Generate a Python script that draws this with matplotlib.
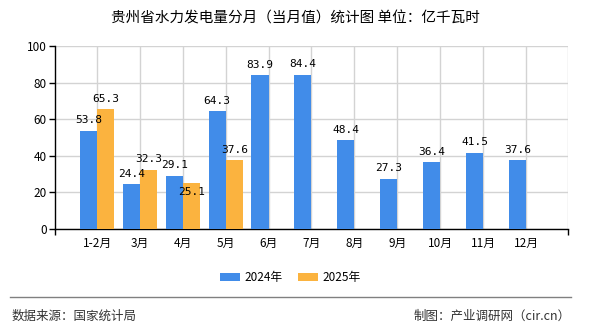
import matplotlib.pyplot as plt
import numpy as np

plt.rcParams['font.family'] = ['Noto Sans CJK SC', 'DejaVu Sans']

months = ['1-2月', '3月', '4月', '5月', '6月', '7月', '8月', '9月', '10月', '11月', '12月']
v2024 = [53.8, 24.4, 29.1, 64.3, 83.9, 84.4, 48.4, 27.3, 36.4, 41.5, 37.6]
v2025 = [65.3, 32.3, 25.1, 37.6]
yticks = [0, 20, 40, 60, 80, 100]

blue = '#418CE9'
orange = '#FBB33F'

fig = plt.figure(figsize=(5.9, 3.3), dpi=100)
ax = fig.add_axes([0.0932, 0.3061, 0.8695, 0.5545])

x = np.arange(len(months))
w = 0.4
b1 = ax.bar(x - w / 2, v2024, w, color=blue, label='2024年', zorder=3)
x2 = x[:len(v2025)]
b2 = ax.bar(x2 + w / 2, v2025, w, color=orange, label='2025年', zorder=3)

lab = dict(fontsize=8, family='DejaVu Sans Mono', ha='center', zorder=4)
for xi, v in zip(x, v2024):
    ax.annotate(f'{v}', (xi - w / 2, v), xytext=(0, 4), textcoords='offset points',
                va='bottom', **lab)
for xi, v, old in zip(x2, v2025, v2024):
    # label collides with the neighbouring 2024 label: put it under the bar top
    if abs(v - old) < 5:
        ax.annotate(f'{v}', (xi + w / 2, v), xytext=(0, -3), textcoords='offset points',
                    va='top', **lab)
    else:
        ax.annotate(f'{v}', (xi + w / 2, v), xytext=(0, 4), textcoords='offset points',
                    va='bottom', **lab)

ax.set_xlim(-0.98, 10.98)
ax.set_ylim(0, 100)
ax.set_yticks(yticks)
ax.set_xticks(x)
ax.set_xticklabels(months)
ax.set_xticks([-0.98, 10.98], minor=True)
ax.tick_params(axis='x', which='major', length=0, pad=6, labelsize=8.5)
ax.tick_params(axis='x', which='minor', length=4, width=1, color='black')
ax.tick_params(axis='y', length=4, width=1, pad=2, labelsize=8.5)

ax.grid(True, color='#d3d3d3', linewidth=1, zorder=0)
for s in ['top', 'right']:
    ax.spines[s].set_visible(False)
ax.axvline(10.98, color='#d3d3d3', linewidth=1, zorder=0)
ax.spines['left'].set_color('black')
ax.spines['bottom'].set_color('black')
ax.spines['left'].set_linewidth(1)
ax.spines['bottom'].set_linewidth(1)

fig.legend(handles=[b1, b2], loc='center', bbox_to_anchor=(0.492, 0.158), ncol=2,
           frameon=False, fontsize=8.5, handlelength=1.7, handleheight=0.7,
           columnspacing=1.3, handletextpad=0.4)

fig.text(0.5, 0.945, '贵州省水力发电量分月（当月值）统计图 单位：亿千瓦时',
         ha='center', va='center', fontsize=10.5)

fig.add_artist(plt.Line2D([10 / 590, 571 / 590], [1 - 297 / 330, 1 - 297 / 330],
                          color='#808080', linewidth=1))
fig.text(12 / 590, 1 - 316 / 330, '数据来源：国家统计局', ha='left', va='center',
         fontsize=9, color='#333333')
fig.text(571 / 590, 1 - 316 / 330, '制图：产业调研网（cir.cn）', ha='right', va='center',
         fontsize=9, color='#333333')

fig.savefig('out.png', dpi=100)
